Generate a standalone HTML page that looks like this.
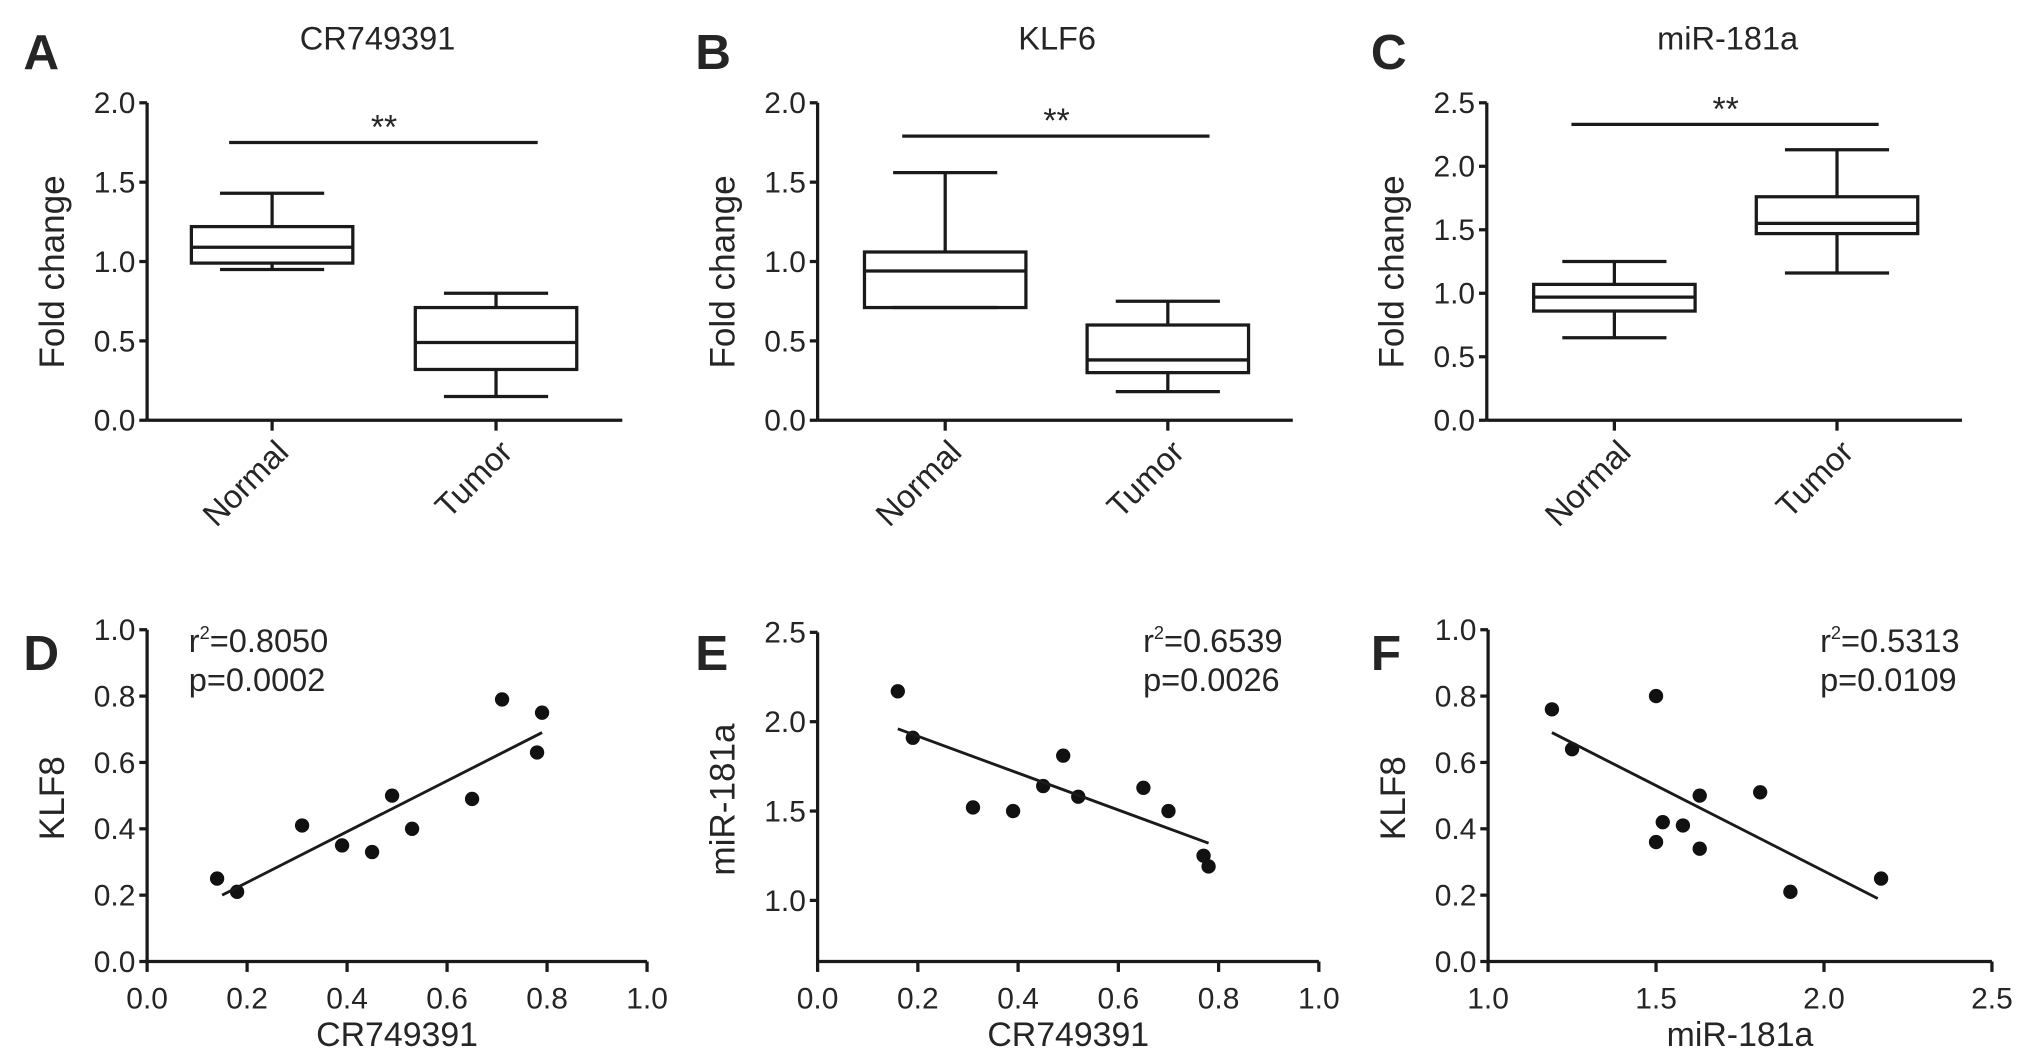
<!DOCTYPE html>
<html><head><meta charset="utf-8">
<style>
html,body{margin:0;padding:0;background:#fff;}
svg{display:block;}
text{font-family:"Liberation Sans",Arial,sans-serif;fill:#252525;}
</style></head>
<body>
<svg id="fig" width="2031" height="1063" viewBox="0 0 1560 817" preserveAspectRatio="none" xmlns="http://www.w3.org/2000/svg"></svg>
<script>
// ---- Box plot data: [whiskerLow, q1, median, q3, whiskerHigh]
const boxCategories = ["Normal", "Tumor"];
const boxA = [[0.95, 0.99, 1.09, 1.22, 1.43], [0.15, 0.32, 0.49, 0.71, 0.80]];
const boxB = [[0.71, 0.71, 0.94, 1.06, 1.56], [0.18, 0.30, 0.38, 0.60, 0.75]];
const boxC = [[0.65, 0.86, 0.97, 1.07, 1.25], [1.16, 1.47, 1.55, 1.76, 2.13]];
const boxTicksAB = ["0.0", "0.5", "1.0", "1.5", "2.0"];
const boxTicksC = ["0.0", "0.5", "1.0", "1.5", "2.0", "2.5"];
const sigA = 1.75, sigB = 1.79, sigC = 2.33;

// ---- Scatter data
const dX = [0.14, 0.18, 0.31, 0.39, 0.45, 0.49, 0.53, 0.65, 0.71, 0.78, 0.79];
const dY = [0.25, 0.21, 0.41, 0.35, 0.33, 0.50, 0.40, 0.49, 0.79, 0.63, 0.75];
const dFit = [[0.15, 0.20], [0.79, 0.69]];
const eX = [0.16, 0.19, 0.31, 0.39, 0.45, 0.49, 0.52, 0.65, 0.70, 0.77, 0.78];
const eY = [2.17, 1.91, 1.52, 1.50, 1.64, 1.81, 1.58, 1.63, 1.50, 1.25, 1.19];
const eFit = [[0.16, 1.96], [0.78, 1.32]];
const fX = [1.19, 1.25, 1.50, 1.50, 1.52, 1.58, 1.63, 1.63, 1.81, 1.90, 2.17];
const fY = [0.76, 0.64, 0.80, 0.36, 0.42, 0.41, 0.50, 0.34, 0.51, 0.21, 0.25];
const fFit = [[1.19, 0.69], [2.16, 0.19]];
const ticks01 = ["0.0", "0.2", "0.4", "0.6", "0.8", "1.0"];
const ticksE = ["1.0", "1.5", "2.0", "2.5"];
const ticksF = ["1.0", "1.5", "2.0", "2.5"];

const svg = document.getElementById('fig');
const NS = "http://www.w3.org/2000/svg";
function mk(tag, attrs, parent, txt){
  const e = document.createElementNS(NS, tag);
  for (const k in attrs) e.setAttribute(k, attrs[k]);
  if (txt !== undefined) e.textContent = txt;
  (parent || svg).appendChild(e);
  return e;
}
function line(g, x1, y1, x2, y2, w){ return mk('line', {x1, y1, x2, y2, stroke:'#1a1a1a', 'stroke-width': w || 2.5}, g); }

function boxPanel(o){
  const g = mk('g', {});
  
  
  const ys = v => o.y0 - (v / o.ymax) * (o.y0 - o.yTop);
  line(g, o.ax, ys(o.ymax), o.ax, o.y0);
  line(g, o.ax, o.y0, o.axEnd, o.y0);
  o.ticks.forEach(t => {
    const v = parseFloat(t), y = ys(v);
    line(g, o.ax - 6, y, o.ax, y);
    const tl = mk('text', {x: o.ax - 9, y: y + 8, 'text-anchor': 'end', 'font-size': 23}, g, t);
    
    
  });
  const xs = i => o.cx[i];
  boxCategories.forEach((c, i) => {
    const x = xs(i);
    line(g, x, o.y0, x, o.y0 + 8);
    const lb = mk('text', {x: 0, y: 0, 'text-anchor': 'end', 'font-size': 25,
      transform: `translate(${x + 14},${o.y0 + 26}) rotate(-45)`}, g, c);
    
    
    const d = o.data[i], hw = 62, cap = 40;
    const bg = mk('g', {}, g);
    
    
    line(bg, x, ys(d[0]), x, ys(d[1]));
    line(bg, x, ys(d[3]), x, ys(d[4]));
    line(bg, x - cap, ys(d[0]), x + cap, ys(d[0]));
    line(bg, x - cap, ys(d[4]), x + cap, ys(d[4]));
    mk('rect', {x: x - hw, y: ys(d[3]), width: 2 * hw, height: ys(d[1]) - ys(d[3]), fill: 'none', stroke: '#1a1a1a', 'stroke-width': 2.5}, bg);
    line(bg, x - hw, ys(d[2]), x + hw, ys(d[2]));
  });
  const sy = ys(o.sig);
  const sl = line(g, xs(0) - 33, sy, xs(1) + 32, sy);
  
  
  const st = mk('text', {x: (xs(0) + xs(1)) / 2, y: sy - 3, 'text-anchor': 'middle', 'font-size': 26}, g, '**');
  
  
  const ti = mk('text', {x: o.titleX, y: 38, 'text-anchor': 'middle', 'font-size': 25}, g, o.title);
  
  
  const yl = mk('text', {x: 0, y: 0, 'text-anchor': 'middle', 'font-size': 27, transform: `translate(${o.ax - 64},${(o.y0 + o.yTop) / 2 + 8}) rotate(-90)`}, g, 'Fold change');
  
  
  const pl = mk('text', {x: o.letterX, y: 53, 'font-size': 38, 'font-weight': 'bold', fill: '#111'}, g, o.letter);
  
  
}

boxPanel({name: 'panel-a', ax: 113, axEnd: 478, y0: 323, yTop: 79, ymax: 2.0, ticks: boxTicksAB, cx: [209, 381], data: boxA, sig: sigA, title: 'CR749391', titleX: 290, letter: 'A', letterX: 18});
boxPanel({name: 'panel-b', ax: 628, axEnd: 993, y0: 323, yTop: 79, ymax: 2.0, ticks: boxTicksAB, cx: [726, 897], data: boxB, sig: sigB, title: 'KLF6', titleX: 812, letter: 'B', letterX: 534});
boxPanel({name: 'panel-c', ax: 1142, axEnd: 1507, y0: 323, yTop: 79, ymax: 2.5, ticks: boxTicksC, cx: [1240, 1411], data: boxC, sig: sigC, title: 'miR-181a', titleX: 1327, letter: 'C', letterX: 1053});

function scatterPanel(o){
  const g = mk('g', {});
  
  
  const xs = v => o.ax + (v - o.xmin) / (o.xmax - o.xmin) * (o.axEnd - o.ax);
  const ys = v => o.y0 - (v - o.ymin) / (o.ymax - o.ymin) * (o.y0 - o.yTop);
  line(g, o.ax, o.yTop, o.ax, o.y0);
  line(g, o.ax, o.y0, o.axEnd, o.y0);
  o.yticks.forEach(t => {
    const y = ys(parseFloat(t));
    line(g, o.ax - 6, y, o.ax, y);
    const tl = mk('text', {x: o.ax - 9, y: y + 8, 'text-anchor': 'end', 'font-size': 23}, g, t);
    
    
  });
  o.xticks.forEach(t => {
    const x = xs(parseFloat(t));
    line(g, x, o.y0, x, o.y0 + 8);
    const tl = mk('text', {x: x, y: o.y0 + 36, 'text-anchor': 'middle', 'font-size': 23}, g, t);
    
    
  });
  o.X.forEach((v, i) => {
    const c = mk('circle', {cx: xs(v), cy: ys(o.Y[i]), r: 5.5, fill: '#111'}, g);
    
    
  });
  const fl = line(g, xs(o.fit[0][0]), ys(o.fit[0][1]), xs(o.fit[1][0]), ys(o.fit[1][1]), 2.2);
  
  
  const xt = mk('text', {x: (o.ax + o.axEnd) / 2, y: o.y0 + 65, 'text-anchor': 'middle', 'font-size': 26}, g, o.xlabel);
  
  
  const yl = mk('text', {x: 0, y: 0, 'text-anchor': 'middle', 'font-size': 27, transform: `translate(${o.ax - 64},${(o.y0 + o.yTop) / 2 + 2}) rotate(-90)`}, g, o.ylabel);
  
  
  const r2 = mk('text', {x: o.annX, y: 501, 'font-size': 25}, g);
  
  
  mk('tspan', {}, r2, 'r');
  mk('tspan', {'font-size': 14, dy: -10}, r2, '2');
  mk('tspan', {dy: 10}, r2, '=' + o.r2);
  const pv = mk('text', {x: o.annX, y: 531, 'font-size': 25}, g, 'p=' + o.p);
  
  
  const pl = mk('text', {x: o.letterX, y: 515, 'font-size': 38, 'font-weight': 'bold', fill: '#111'}, g, o.letter);
  
  
}

scatterPanel({name: 'panel-d', ax: 113, axEnd: 497, y0: 739, yTop: 484, xmin: 0, xmax: 1, ymin: 0, ymax: 1, xticks: ticks01, yticks: ticks01, X: dX, Y: dY, fit: dFit, xlabel: 'CR749391', ylabel: 'KLF8', r2: '0.8050', p: '0.0002', annX: 145, letter: 'D', letterX: 18});
scatterPanel({name: 'panel-e', ax: 628, axEnd: 1013, y0: 739, yTop: 486, xmin: 0, xmax: 1, ymin: 0.658, ymax: 2.5, xticks: ticks01, yticks: ticksE, X: eX, Y: eY, fit: eFit, xlabel: 'CR749391', ylabel: 'miR-181a', r2: '0.6539', p: '0.0026', annX: 878, letter: 'E', letterX: 534});
scatterPanel({name: 'panel-f', ax: 1143, axEnd: 1530, y0: 739, yTop: 484, xmin: 1, xmax: 2.5, ymin: 0, ymax: 1, xticks: ticksF, yticks: ticks01, X: fX, Y: fY, fit: fFit, xlabel: 'miR-181a', ylabel: 'KLF8', r2: '0.5313', p: '0.0109', annX: 1398, letter: 'F', letterX: 1053});
</script>
</body></html>
